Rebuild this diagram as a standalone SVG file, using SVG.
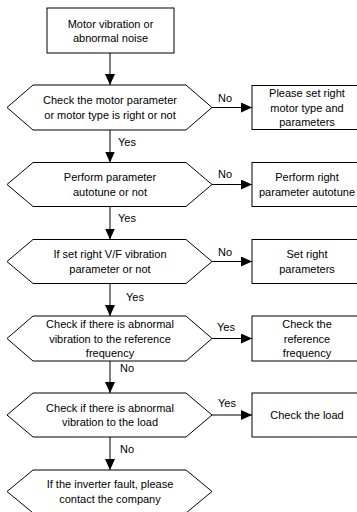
<svg xmlns="http://www.w3.org/2000/svg" width="357" height="512" viewBox="0 0 357 512">
<style>
.s{fill:#fff;stroke:#000;stroke-width:1}
.c{stroke:#000;stroke-width:1;fill:none}
text{font-family:"Liberation Sans",Arial,sans-serif;font-size:11px;fill:#000;text-anchor:middle}
</style>
<defs>
<marker id="ah" markerUnits="userSpaceOnUse" markerWidth="11" markerHeight="10" refX="11" refY="5" orient="auto">
<path d="M0,0 L11,5 L0,10 z" fill="#000"/>
</marker>
</defs>
<rect width="357" height="512" fill="#fff"/>
<g id="connectors">
<line class="c" x1="110" y1="53" x2="110" y2="85" marker-end="url(#ah)"/>
<line class="c" x1="212" y1="107.5" x2="252" y2="107.5" marker-end="url(#ah)"/>
<text x="225" y="101.5">No</text>
<line class="c" x1="110" y1="130" x2="110" y2="162.5" marker-end="url(#ah)"/>
<text x="127" y="145.5">Yes</text>
<line class="c" x1="212" y1="184.5" x2="252" y2="184.5" marker-end="url(#ah)"/>
<text x="225" y="177.5">No</text>
<line class="c" x1="110" y1="206.5" x2="110" y2="239.5" marker-end="url(#ah)"/>
<text x="127" y="221.5">Yes</text>
<line class="c" x1="212" y1="261.5" x2="252" y2="261.5" marker-end="url(#ah)"/>
<text x="225" y="255.5">No</text>
<line class="c" x1="110" y1="283.5" x2="110" y2="316" marker-end="url(#ah)"/>
<text x="135" y="300.5">Yes</text>
<line class="c" x1="212" y1="338.5" x2="252" y2="338.5" marker-end="url(#ah)"/>
<text x="226" y="331">Yes</text>
<line class="c" x1="110" y1="361" x2="110" y2="393" marker-end="url(#ah)"/>
<text x="127" y="372">No</text>
<line class="c" x1="212" y1="415" x2="252" y2="415" marker-end="url(#ah)"/>
<text x="227" y="407">Yes</text>
<line class="c" x1="110" y1="437" x2="110" y2="470" marker-end="url(#ah)"/>
<text x="127" y="453">No</text>
</g>
<g id="start">
<rect class="s" x="47" y="8" width="127" height="45"/>
<text x="110.5" y="28">Motor vibration or</text>
<text x="110.5" y="42">abnormal noise</text>
</g>
<g id="d1">
<polygon class="s" points="7,107.5 33,85 186,85 212,107.5 186,130 33,130"/>
<text x="110" y="104.2">Check the motor parameter</text>
<text x="110" y="118.5">or motor type is right or not</text>
</g>
<g id="b1">
<rect class="s" x="252" y="85.5" width="110" height="44"/>
<text x="307" y="96.5">Please set right</text>
<text x="307" y="111.5">motor type and</text>
<text x="307" y="126">parameters</text>
</g>
<g id="d2">
<polygon class="s" points="7,184.5 33,162.5 186,162.5 212,184.5 186,206.5 33,206.5"/>
<text x="110" y="181">Perform parameter</text>
<text x="110" y="195.5">autotune or not</text>
</g>
<g id="b2">
<rect class="s" x="252" y="162.5" width="110" height="44"/>
<text x="307" y="181">Perform right</text>
<text x="307" y="195.5">parameter autotune</text>
</g>
<g id="d3">
<polygon class="s" points="7,261.5 33,239.5 186,239.5 212,261.5 186,283.5 33,283.5"/>
<text x="110" y="258">If set right V/F vibration</text>
<text x="110" y="272.5">parameter or not</text>
</g>
<g id="b3">
<rect class="s" x="252" y="239.5" width="110" height="44"/>
<text x="307" y="258">Set right</text>
<text x="307" y="272.5">parameters</text>
</g>
<g id="d4">
<polygon class="s" points="7,338.5 33,316 186,316 212,338.5 186,361 33,361"/>
<text x="110" y="328">Check if there is abnormal</text>
<text x="110" y="342.5">vibration to the reference</text>
<text x="110" y="357">frequency</text>
</g>
<g id="b4">
<rect class="s" x="252" y="316" width="110" height="45"/>
<text x="307" y="328">Check the</text>
<text x="307" y="342.5">reference</text>
<text x="307" y="357">frequency</text>
</g>
<g id="d5">
<polygon class="s" points="7,415 33,393 186,393 212,415 186,437 33,437"/>
<text x="110" y="411.5">Check if there is abnormal</text>
<text x="110" y="426">vibration to the load</text>
</g>
<g id="b5">
<rect class="s" x="252" y="393" width="110" height="44"/>
<text x="307" y="419">Check the load</text>
</g>
<g id="d6">
<polygon class="s" points="7,491.5 33,470 186,470 212,491.5 186,513 33,513"/>
<text x="110" y="488.3">If the inverter fault, please</text>
<text x="110" y="503">contact the company</text>
</g>
</svg>
